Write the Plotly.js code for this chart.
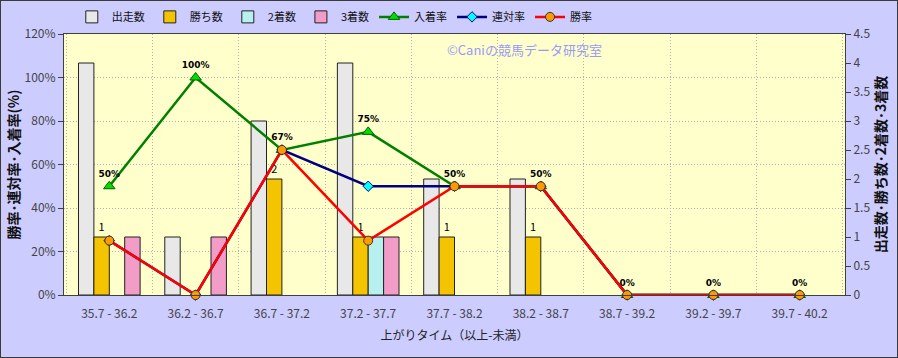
<!DOCTYPE html>
<html><head><meta charset="utf-8">
<script src="https://cdn.plot.ly/plotly-3.0.1.min.js"></script>
<style>
html,body{margin:0;padding:0;background:#ccccff;}
#wrap{position:relative;width:898px;height:358px;}
#chart{position:absolute;left:0;top:0;width:898px;height:358px;}
#frame{position:absolute;left:0;top:0;width:896px;height:356px;border:1px solid #3a3a3a;pointer-events:none;}
</style></head>
<body><div id="wrap"><div id="chart"></div><div id="frame"></div></div>
<script>
const categories = ['35.7 - 36.2','36.2 - 36.7','36.7 - 37.2','37.2 - 37.7','37.7 - 38.2','38.2 - 38.7','38.7 - 39.2','39.2 - 39.7','39.7 - 40.2'];
const runs   = [4, 1, 3, 4, 2, 2, 0, 0, 0];
const wins   = [1, 0, 2, 1, 1, 1, 0, 0, 0];
const second = [0, 0, 0, 1, 0, 0, 0, 0, 0];
const third  = [1, 1, 0, 1, 0, 0, 0, 0, 0];
const placeRate = [0.5, 1.0, 0.667, 0.75, 0.5, 0.5, 0, 0, 0];
const quinellaRate = [0.25, 0, 0.667, 0.5, 0.5, 0.5, 0, 0, 0];
const winRate = [0.25, 0, 0.667, 0.25, 0.5, 0.5, 0, 0, 0];

const F = '"Noto Sans CJK JP", "Noto Sans", sans-serif';
const barLine = {color:'#222', width:1};
const hideZero = arr => arr.map(v => v === 0 ? null : v);

const traces = [
  {type:'bar', name:'出走数', x:categories, y:hideZero(runs), yaxis:'y', marker:{color:'#e8e8e8', line:barLine}, hoverinfo:'skip'},
  {type:'bar', name:'勝ち数', x:categories, y:hideZero(wins), yaxis:'y', marker:{color:'#f5c400', line:barLine},
    text: wins.map(v => v > 0 ? String(v) : ''), textposition:'outside', cliponaxis:false,
    textfont:{family:F, size:11, color:'#000'}, hoverinfo:'skip'},
  {type:'bar', name:'2着数', x:categories, y:hideZero(second), yaxis:'y', marker:{color:'#b8f0f0', line:barLine}, hoverinfo:'skip'},
  {type:'bar', name:'3着数', x:categories, y:hideZero(third), yaxis:'y', marker:{color:'#f29cc8', line:barLine}, hoverinfo:'skip'},
  {type:'scatter', mode:'lines+markers+text', name:'入着率', x:categories, y:placeRate, yaxis:'y2',
    line:{color:'#008000', width:2.5}, marker:{symbol:'triangle-up', size:10, color:'#00dd00', line:{color:'#006000', width:1}},
    text: placeRate.map(v => Math.round(v*100) + '%'), textposition:'top center', cliponaxis:false,
    textfont:{family:'"DejaVu Sans", sans-serif', size:9, color:'#000', weight:'bold'}, hoverinfo:'skip'},
  {type:'scatter', mode:'lines+markers', name:'連対率', x:categories, y:quinellaRate, yaxis:'y2',
    line:{color:'#000080', width:2.5}, marker:{symbol:'diamond', size:8, color:'#00ffff', line:{color:'#000080', width:1}}, cliponaxis:false, hoverinfo:'skip'},
  {type:'scatter', mode:'lines+markers', name:'勝率', x:categories, y:winRate, yaxis:'y2',
    line:{color:'#ff0000', width:2.5}, marker:{symbol:'circle', size:9, color:'#ff9900', line:{color:'#333', width:1}}, cliponaxis:false, hoverinfo:'skip'}
];

const layout = {
  width:898, height:358,
  margin:{l:64, r:53, t:34, b:63, autoexpand:false},
  paper_bgcolor:'#ccccff', plot_bgcolor:'#ffffcc',
  font:{family:F, size:12, color:'#333'},
  barmode:'group', bargap:0.286, bargroupgap:0,
  showlegend:true,
  legend:{orientation:'h', x:0.01, xanchor:'left', y:1.01, yanchor:'bottom', bgcolor:'rgba(0,0,0,0)',
    font:{family:F, size:11, color:'#111'}, traceorder:'normal', itemwidth:30, tracegroupgap:0},
  xaxis:{type:'category', tickson:'boundaries', showgrid:true, gridcolor:'#b0b0b0', griddash:'1px,2px', gridwidth:1,
    ticks:'', ticklabelstandoff:8, showline:true, linecolor:'#404040', linewidth:1, mirror:true,
    tickfont:{family:F, size:12, color:'#444'},
    title:{text:'上がりタイム（以上-未満）', font:{family:F, size:12, color:'#222'}, standoff:11}},
  yaxis:{side:'right', range:[0,4.5], dtick:0.5, tick0:0, showgrid:false, zeroline:false,
    ticks:'outside', ticklen:5, tickcolor:'#404040', showline:true, linecolor:'#404040', linewidth:1,
    tickfont:{family:F, size:12, color:'#444'},
    title:{text:'出走数･勝ち数･2着数･3着数', font:{family:F, size:14, color:'#111', weight:'bold'}, standoff:4}},
  yaxis2:{side:'left', overlaying:'y', range:[0,1.2], dtick:0.2, tick0:0, tickformat:'.0%',
    showgrid:true, gridcolor:'#b0b0b0', griddash:'1px,2px', gridwidth:1, zeroline:false,
    ticks:'outside', ticklen:5, tickcolor:'#404040', showline:true, linecolor:'#404040', linewidth:1,
    tickfont:{family:F, size:12, color:'#444'},
    title:{text:'勝率･連対率･入着率(%)', font:{family:F, size:14, color:'#111', weight:'bold'}, standoff:1}},
  annotations:[
    {text:'©Caniの競馬データ研究室', xref:'paper', yref:'paper', x:0.59, y:0.94, xanchor:'center', yanchor:'middle',
      showarrow:false, font:{family:F, size:13, color:'#9a9af5'}}
  ]
};

Plotly.newPlot('chart', traces, layout, {displayModeBar:false, staticPlot:true});
</script></body></html>
